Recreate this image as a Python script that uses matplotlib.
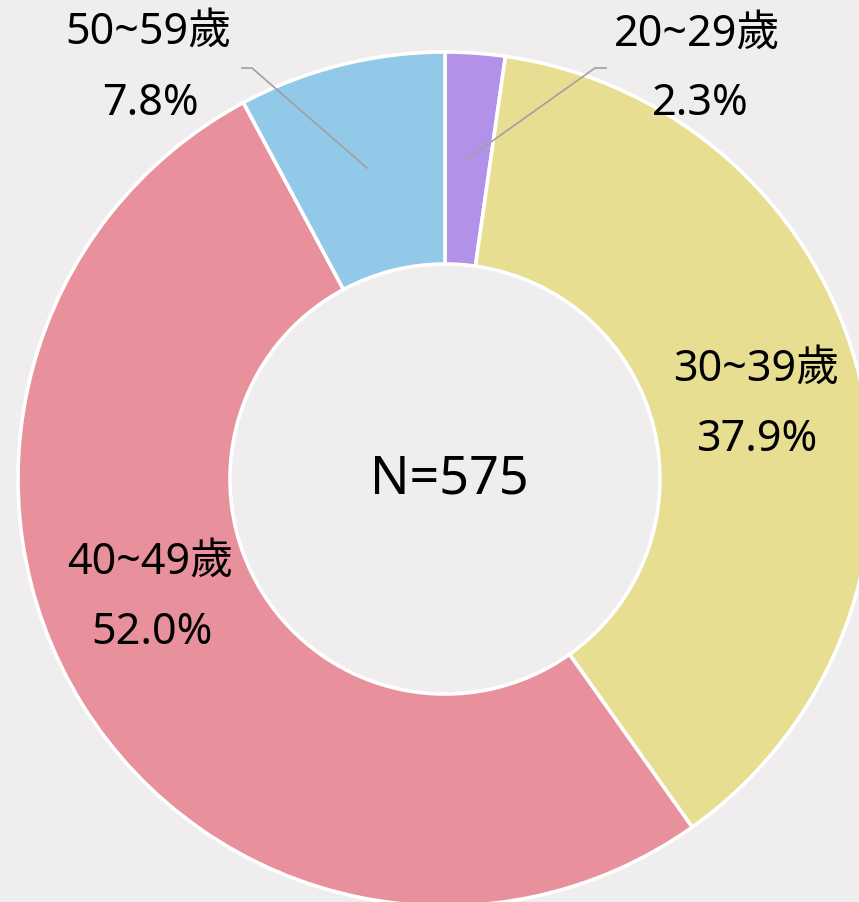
import matplotlib.pyplot as plt

plt.rcParams['font.family'] = ['Noto Sans', 'Noto Sans CJK TC', 'DejaVu Sans']

# age groups, clockwise from the top
groups = ['20~29歲', '30~39歲', '40~49歲', '50~59歲']
counts = [13, 218, 299, 45]
shares = ['2.3%', '37.9%', '52.0%', '7.8%']
colors = ['#b292e8', '#e7de92', '#e8919c', '#92c8e8']
total = sum(counts)

W, H = 859, 903
fig = plt.figure(figsize=(W / 100, H / 100), dpi=100)
fig.patch.set_facecolor('#efeded')
ax = fig.add_axes([0, 0, 1, 1])
ax.set_facecolor('#efeded')

# pixel coords, y measured from the top of the image
cx, cy = 445, 480
ax.pie(counts, colors=colors, startangle=90, counterclock=False,
       center=(cx, H - cy), radius=427,
       wedgeprops=dict(width=212, edgecolor='white', linewidth=2.6))
ax.set_xlim(0, W)
ax.set_ylim(0, H)
ax.set_aspect('equal')
ax.axis('off')

ax.text(cx + 4, H - cy, f'N={total}', ha='center', va='center', fontsize=37.5)

# label spots (name line, percent line), in pixels
spots = [(697, 35, 700, 104), (756, 370, 757, 440),
         (150, 563, 152, 633), (148, 33, 150, 104)]
for g, s, (x1, y1, x2, y2) in zip(groups, shares, spots):
    ax.text(x1, H - y1, g, ha='center', va='center', fontsize=31)
    ax.text(x2, H - y2, s, ha='center', va='center', fontsize=31)

# leader lines for the two small slices
ax.plot([606, 595, 467], [H - 69, H - 69, H - 160], color='#a0a0a0', lw=1.2)
ax.plot([242, 252, 367], [H - 69, H - 69, H - 169], color='#a0a0a0', lw=1.2)

fig.savefig('out.png', dpi=100, facecolor=fig.get_facecolor())
